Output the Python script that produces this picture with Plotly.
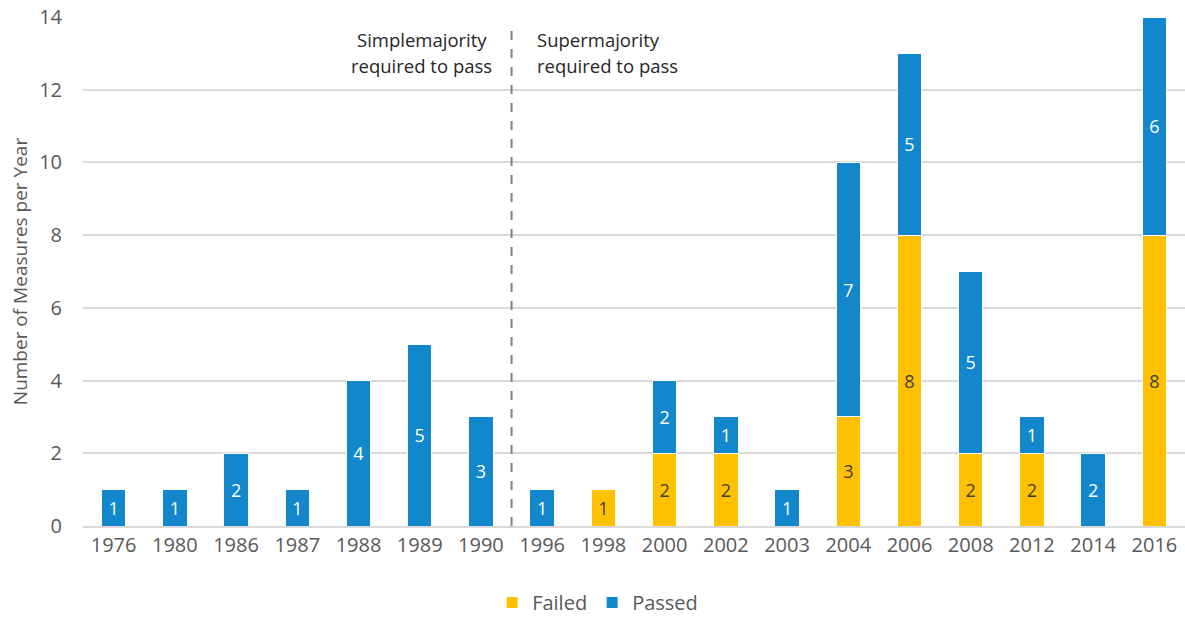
import plotly.graph_objects as go

# Dados do gráfico
anos = ["1976", "1980", "1986", "1987", "1988", "1989", "1990", "1996", "1998",
        "2000", "2002", "2003", "2004", "2006", "2008", "2012", "2014", "2016"]
failed = [0, 0, 0, 0, 0, 0, 0, 0, 1, 2, 2, 0, 3, 8, 2, 2, 0, 8]
passed = [1, 1, 2, 1, 4, 5, 3, 1, 0, 2, 1, 1, 7, 5, 5, 1, 2, 6]

cor_failed = "#FFC000"
cor_passed = "#1287CB"
cinza = "#595959"
fonte = "Open Sans"

fig = go.Figure()
fig.add_trace(go.Bar(
    x=anos, y=failed, name="Failed",
    marker=dict(color=cor_failed, line=dict(color="white", width=1)),
    text=[str(v) if v else "" for v in failed],
    textposition="inside", insidetextanchor="middle", constraintext="none",
    textfont=dict(family=fonte, size=18, color="#404040"),
))
fig.add_trace(go.Bar(
    x=anos, y=passed, name="Passed",
    marker=dict(color=cor_passed, line=dict(color="white", width=1)),
    text=[str(v) if v else "" for v in passed],
    textposition="inside", insidetextanchor="middle", constraintext="none",
    textfont=dict(family=fonte, size=18, color="white"),
))

# Linha tracejada separando os períodos
fig.add_shape(type="line", xref="x", yref="y", x0=6.5, x1=6.5, y0=0, y1=13.72,
              line=dict(color="#808080", width=2, dash="dash"))

# Textos de cada lado da linha (uma anotação por linha de texto)
esquerda = ["Simplemajority", "required to pass"]
direita = ["Supermajority", "required to pass"]
for i, txt in enumerate(esquerda):
    fig.add_annotation(x=6.5, y=13.39, xref="x", yref="y", xanchor="center", yanchor="middle",
                       xshift=-90, yshift=-26 * i, text=txt, showarrow=False,
                       font=dict(family=fonte, size=18.5, color="#262626"))
for i, txt in enumerate(direita):
    fig.add_annotation(x=6.5, y=13.39, xref="x", yref="y", xanchor="left", yanchor="middle",
                       xshift=23, yshift=-26 * i, text=txt, showarrow=False,
                       font=dict(family=fonte, size=18.5, color="#262626"))

fig.update_layout(
    barmode="stack",
    bargap=0.6,
    plot_bgcolor="white",
    paper_bgcolor="white",
    width=1185, height=622,
    margin=dict(l=83, r=0, t=17, b=96),
    font=dict(family=fonte, size=18, color=cinza),
    xaxis=dict(showgrid=False, ticks="", tickfont=dict(size=20, color=cinza),
               showline=True, linecolor="#D9D9D9", linewidth=2, automargin=False),
    yaxis=dict(range=[0, 14], dtick=2, showgrid=True, gridcolor="#D9D9D9", gridwidth=2,
               zeroline=False, tickfont=dict(size=20, color=cinza), ticklabelstandoff=20,
               automargin=False,
               title=dict(text="Number of Measures per Year", font=dict(size=19, color=cinza),
                          standoff=6)),
    legend=dict(orientation="h", x=0.467, xanchor="center",
                y=-0.1886, yanchor="bottom", itemwidth=30,
                font=dict(size=20, color=cinza), traceorder="normal"),
    showlegend=True,
)

fig.write_html("out.html", config={"displayModeBar": False},
               post_script="document.body.style.margin='0';")
